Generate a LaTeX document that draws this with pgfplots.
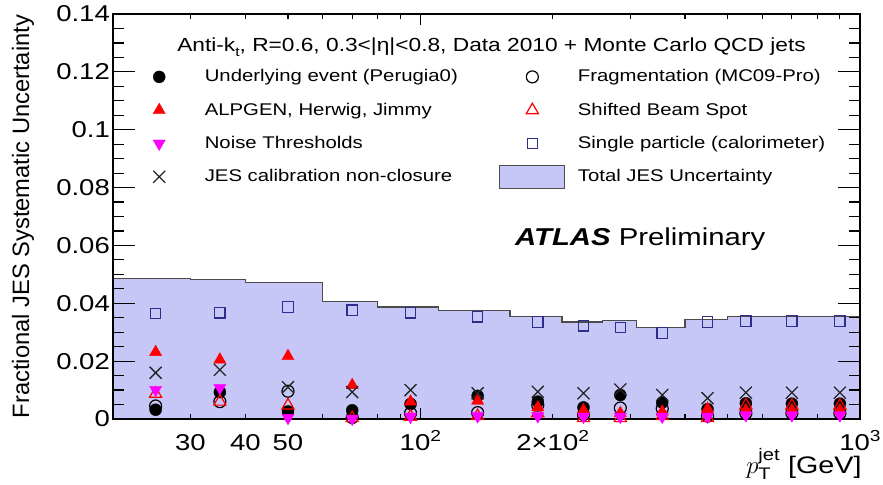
\documentclass[border=0pt]{standalone}
\usepackage{fontspec}
\setmainfont{Liberation Sans}[FakeStretch=1.2]
\newfontfamily\ylabfont{Liberation Sans}
\usepackage{amsmath}
\usepackage{pgfplots}
\usepackage{pgfplotstable}
\pgfplotsset{compat=1.18}
\definecolor{jesfill}{RGB}{199,199,247}
\definecolor{spblue}{RGB}{45,45,140}
\definecolor{mymag}{RGB}{255,0,255}
\newcommand\sups[1]{\raisebox{0.42em}{\fontsize{16}{16}\selectfont #1}}
\newcommand\subt[1]{\raisebox{-0.22em}{\fontsize{13}{13}\selectfont #1}}
\pgfplotsset{mylegend/.style={legend image code/.code={\draw[only marks,mark repeat=2,mark phase=2,##1] plot coordinates {(-1bp,0bp) (0bp,0bp) (1bp,0bp)};}}}

\pgfplotstableread{
x ue frag alp beam noise sp jes
25 0.0032 0.0045 0.0231 0.0087 0.0101 0.0365 0.0160
35 0.0093 0.0060 0.0205 0.0060 0.0108 0.0367 0.0170
50 0.0026 0.0096 0.0217 0.0047 0.0004 0.0387 0.0110
70 0.0030 0.0005 0.0117 0.0003 0.0001 0.0376 0.0093
95 0.0052 0.0020 0.0060 0.0008 0.0008 0.0367 0.0100
135 0.0080 0.0022 0.0063 0.0010 0.0010 0.0353 0.0089
185 0.0060 0.0048 0.0040 0.0020 0.0010 0.0335 0.0094
235 0.0040 0.0015 0.0030 0.0003 0.0008 0.0322 0.0089
285 0.0083 0.0038 0.0020 0.0003 0.0008 0.0316 0.0102
355 0.0057 0.0036 0.0025 0.0010 0.0008 0.0297 0.0083
450 0.0034 0.0010 0.0035 0.0003 0.0008 0.0335 0.0072
550 0.0054 0.0020 0.0030 0.0047 0.0013 0.0339 0.0091
700 0.0053 0.0020 0.0030 0.0046 0.0013 0.0339 0.0091
900 0.0053 0.0020 0.0030 0.0046 0.0013 0.0339 0.0091
}\pts

\pgfplotstableread{
x tot
20 0.0486
30 0.0482
40 0.0471
60 0.0405
80 0.0387
110 0.0374
160 0.0355
210 0.0335
260 0.0340
310 0.0315
400 0.0345
500 0.0355
1000 0.0355
}\total

\begin{document}
\begin{tikzpicture}
\path[use as bounding box] (-113bp,-66bp) rectangle (770bp,419bp);
\begin{axis}[
  at={(0,0)}, anchor=south west,
  scale only axis, width=747bp, height=405bp,
  xmode=log, xmin=20, xmax=1000, ymin=0, ymax=0.14,
  axis on top, clip=false,
  axis line style={line width=1.3bp},
  tick align=inside,
  every tick/.style={black, line width=1.2bp},
  major tick length=22bp, minor tick length=11bp,
  xtick style={/pgfplots/major tick length=11bp, /pgfplots/minor tick length=5.5bp},
  ytick style={/pgfplots/major tick length=22bp, /pgfplots/minor tick length=11bp},
  xtick={100,1000}, xticklabels={10\sups{2},10\sups{3}},
  minor xtick={30,40,50,60,70,80,90,200,300,400,500,600,700,800,900},
  extra x ticks={30,40,50,200},
  extra x tick labels={30,40,50,2×10\sups{2}},
  extra x tick style={major tick style={draw=none}},
  ytick={0,0.02,0.04,0.06,0.08,0.1,0.12,0.14},
  yticklabels={0,0.02,0.04,0.06,0.08,0.1,0.12,0.14},
  minor y tick num=3,
  tick label style={font=\fontsize{23}{26}\selectfont},
  yticklabel style={inner xsep=3bp},
  xticklabel style={anchor=base, inner sep=0pt, yshift=-31.7bp},
  xlabel={$p_{\text{T}}^{\text{jet}}$ [GeV]},
  xlabel style={at={(axis description cs:1.0023,0)}, anchor=base east, inner sep=0pt, yshift=-54bp, font=\fontsize{24}{28}\selectfont},
  ylabel={Fractional JES Systematic Uncertainty},
  ylabel style={at={(axis description cs:-0.1124,0.5)}, anchor=base, inner sep=0pt, font=\ylabfont\fontsize{23.8}{28}\selectfont},
  legend columns=2,
  legend cell align=left,
  legend style={at={(axis description cs:0.0535,0.8674)}, anchor=north west, draw=none, fill=none, inner sep=0pt,
    column sep=39.5bp, row sep=15.3bp, font=\fontsize{17}{20}\selectfont,
    nodes={inner sep=0pt, text width=282bp, text height=14bp, text depth=4bp}},
]
\addplot[const plot, fill=jesfill, draw=black!70, line width=1.2bp, forget plot] table[x=x,y=tot]{\total} \closedcycle;

\addplot[only marks, mylegend, mark=*, mark size=6bp, black] table[x=x,y=ue]{\pts};
\addlegendentry{Underlying event (Perugia0)}
\addplot[only marks, mylegend, mark=o, mark size=6bp, black, line width=1.2bp] table[x=x,y=frag]{\pts};
\addlegendentry{Fragmentation (MC09-Pro)}
\addplot[only marks, mylegend, mark=triangle*, mark size=7bp, red] table[x=x,y=alp]{\pts};
\addlegendentry{ALPGEN, Herwig, Jimmy}
\addplot[only marks, mylegend, mark=triangle, mark size=7bp, red, line width=1.2bp] table[x=x,y=beam]{\pts};
\addlegendentry{Shifted Beam Spot}
\addplot[only marks, mylegend, mark=triangle*, mark size=7bp, mymag, mark options={rotate=180}] table[x=x,y=noise]{\pts};
\addlegendentry{Noise Thresholds}
\addplot[only marks, mylegend, mark=square, mark size=5.2bp, spblue, line width=1.2bp] table[x=x,y=sp]{\pts};
\addlegendentry{Single particle (calorimeter)}
\addplot[only marks, mylegend, mark=x, mark size=8.5bp, black!85, line width=1.3bp] table[x=x,y=jes]{\pts};
\addlegendentry{JES calibration non-closure}
\addlegendimage{legend image code/.code={\draw[overlay, fill=jesfill, draw=black!70, line width=1.2bp] (-32.5bp,-11.5bp) rectangle (32.5bp,11.5bp);}}
\addlegendentry{Total JES Uncertainty}

\node[anchor=base, font=\fontsize{19}{22}\selectfont] at (axis description cs:0.5067,0.9062) {Anti-k\subt{t}, R=0.6, 0.3<|η|<0.8, Data 2010 + Monte Carlo QCD jets};
\node[anchor=base west, font=\fontsize{24.5}{28}\selectfont] at (axis description cs:0.5337,0.4279) {\textbf{\textit{ATLAS}} Preliminary};
\end{axis}
\end{tikzpicture}
\end{document}
